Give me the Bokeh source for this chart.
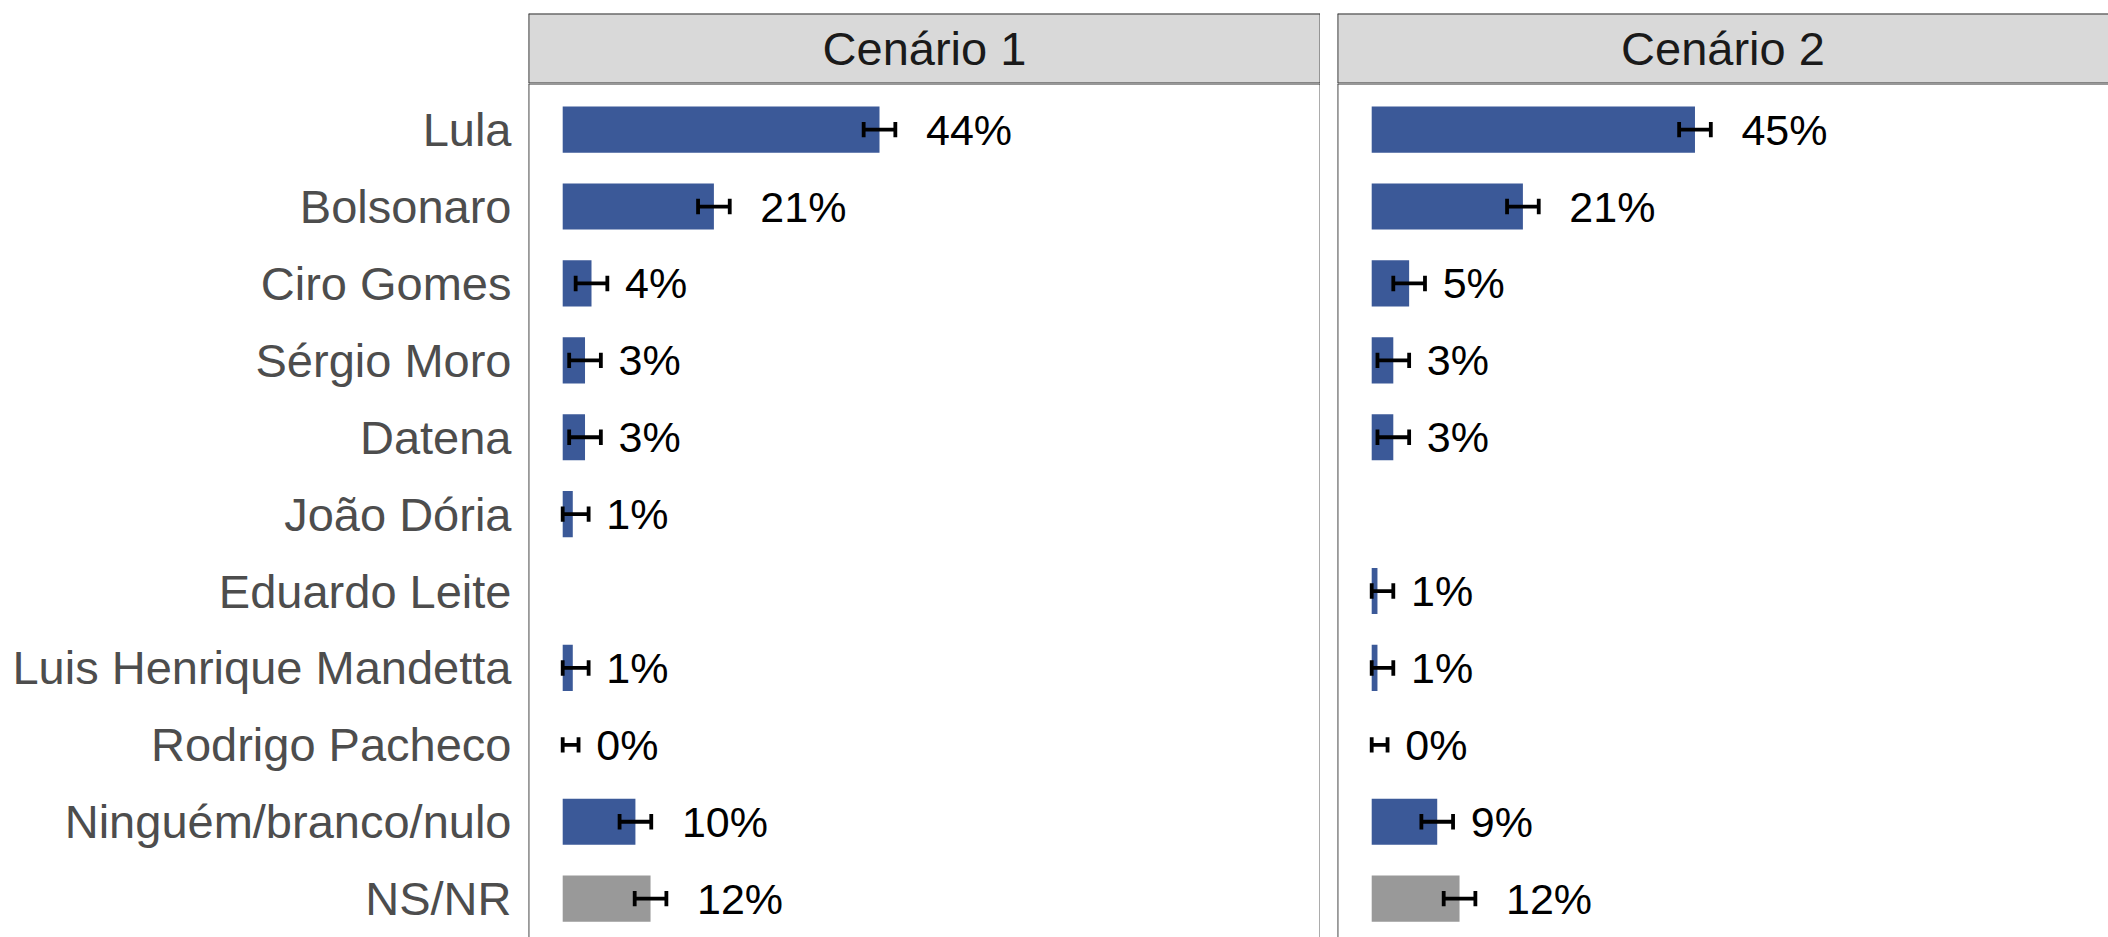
from bokeh.plotting import figure
from bokeh.layouts import column, row
from bokeh.models import Range1d, FixedTicker, Span, ColumnDataSource
from bokeh.embed import file_html
from bokeh.resources import INLINE
from bokeh.core.properties import value

# ---------------- data ----------------
candidatos = ["Lula", "Bolsonaro", "Ciro Gomes", "Sérgio Moro", "Datena",
              "João Dória", "Eduardo Leite", "Luis Henrique Mandetta",
              "Rodrigo Pacheco", "Ninguém/branco/nulo", "NS/NR"]
cenario_1 = [44.0, 21.0, 4.0, 3.1, 3.1, 1.4, None, 1.4, 0.0, 10.1, 12.2]
cenario_2 = [44.9, 21.0, 5.2, 3.0, 3.0, None, 0.8, 0.8, 0.0, 9.1, 12.2]
margem = [2.2] * len(candidatos)
cenarios = ["Cenário 1", "Cenário 2"]

# ---------------- style ----------------
FONT = "Liberation Sans"
BLUE = "#3B5998"
GRAY = "#999999"
BORDER = "#333333"
STRIP_FILL = "#D9D9D9"
VAL_FS = 43

# layout
W, H = 2108, 937
STRIP_TOP = 13
STRIP_H = 70
P1_LEFT = 528
P1_W = 792
GAP = 17
FIG1_W = P1_LEFT + P1_W
FIG2_W = W - FIG1_W
P2_W = FIG2_W - GAP
PANEL_H = H - STRIP_TOP - STRIP_H

PX_PER_UNIT = 7.2
XMIN = -4.75
Y_TOP = -0.6
Y_BOTTOM = Y_TOP + PANEL_H / 76.9


def make_strip(text, width, left, full_border):
    s = figure(width=width, height=STRIP_TOP + STRIP_H, x_range=Range1d(0, 1),
               y_range=Range1d(0, 1), x_axis_location=None, y_axis_location=None,
               toolbar_location=None, output_backend="svg",
               min_border_left=left, min_border_right=0, min_border_top=STRIP_TOP,
               min_border_bottom=0)
    s.grid.grid_line_color = None
    s.background_fill_color = STRIP_FILL
    s.border_fill_color = "white"
    s.outline_line_color = None
    s.text(x=[0.5], y=[0.5], text=[text], text_align="center",
           text_baseline="middle", text_font=value(FONT),
           text_font_size=value("47px"), text_color="#1A1A1A")
    spans = [Span(location=1, dimension="width"), Span(location=0, dimension="width"),
             Span(location=0, dimension="height")]
    if full_border:
        spans.append(Span(location=1, dimension="height"))
    for sp in spans:
        sp.line_color = BORDER
        sp.line_width = 1.8
        s.add_layout(sp)
    return s


def make_panel(vals, width, left, frame_w, show_axis, full_border):
    x_end = XMIN + frame_w / PX_PER_UNIT
    p = figure(width=width, height=PANEL_H, x_range=Range1d(XMIN, x_end),
               y_range=Range1d(Y_BOTTOM, Y_TOP), x_axis_location=None,
               y_axis_location="left" if show_axis else None,
               toolbar_location=None, output_backend="svg",
               min_border_left=left, min_border_right=0, min_border_top=0,
               min_border_bottom=0)
    p.grid.grid_line_color = None
    p.outline_line_color = None
    p.background_fill_color = "white"

    ys, vs, cols, lo, hi, labels, offs = [], [], [], [], [], [], []
    for i, (c, v, m) in enumerate(zip(candidatos, vals, margem)):
        if v is None:
            continue
        ys.append(i)
        vs.append(v)
        cols.append(GRAY if c == "NS/NR" else BLUE)
        lo.append(max(0.0, v - m))
        hi.append(v + m)
        lbl = f"{round(v):.0f}%"
        labels.append(lbl)
        w = VAL_FS * (0.556 * (len(lbl) - 1) + 0.889)
        offs.append(0.54 * w)
    src = ColumnDataSource(dict(y=ys, v=vs, col=cols, lo=lo, hi=hi, lbl=labels,
                                off=offs, y0=[y - 0.1 for y in ys],
                                y1=[y + 0.1 for y in ys]))
    p.hbar(y="y", left=0, right="v", height=0.6, fill_color="col",
           line_color=None, source=src)
    p.segment(x0="lo", x1="hi", y0="y", y1="y", line_color="black",
              line_width=3.8, line_cap="butt", source=src)
    p.segment(x0="lo", x1="lo", y0="y0", y1="y1", line_color="black",
              line_width=3.8, line_cap="butt", source=src)
    p.segment(x0="hi", x1="hi", y0="y0", y1="y1", line_color="black",
              line_width=3.8, line_cap="butt", source=src)
    p.text(x="v", y="y", text="lbl", x_offset="off", text_align="left",
           text_baseline="middle", text_font=value(FONT),
           text_font_size=value(f"{VAL_FS}px"), text_color="black", source=src)

    if show_axis:
        ax = p.yaxis[0]
        ax.ticker = FixedTicker(ticks=list(range(len(candidatos))))
        ax.major_label_overrides = {i: c for i, c in enumerate(candidatos)}
        ax.axis_line_color = None
        ax.major_tick_line_color = None
        ax.minor_tick_line_color = None
        ax.major_tick_in = 0
        ax.major_tick_out = 0
        ax.major_label_standoff = 17
        ax.major_label_text_font = FONT
        ax.major_label_text_font_size = "47px"
        ax.major_label_text_color = "#4D4D4D"

    spans = [Span(location=XMIN, dimension="height"),
             Span(location=Y_TOP, dimension="width")]
    if full_border:
        spans.append(Span(location=x_end, dimension="height"))
    for sp in spans:
        sp.line_color = BORDER
        sp.line_width = 1.8
        p.add_layout(sp)
    return p


s1 = make_strip(cenarios[0], FIG1_W, P1_LEFT, True)
s2 = make_strip(cenarios[1], FIG2_W, GAP, False)
p1 = make_panel(cenario_1, FIG1_W, P1_LEFT, P1_W, True, True)
p2 = make_panel(cenario_2, FIG2_W, GAP, P2_W, False, False)

layout = column(row(s1, s2), row(p1, p2))
open("out.html", "w").write(file_html(layout, INLINE))
